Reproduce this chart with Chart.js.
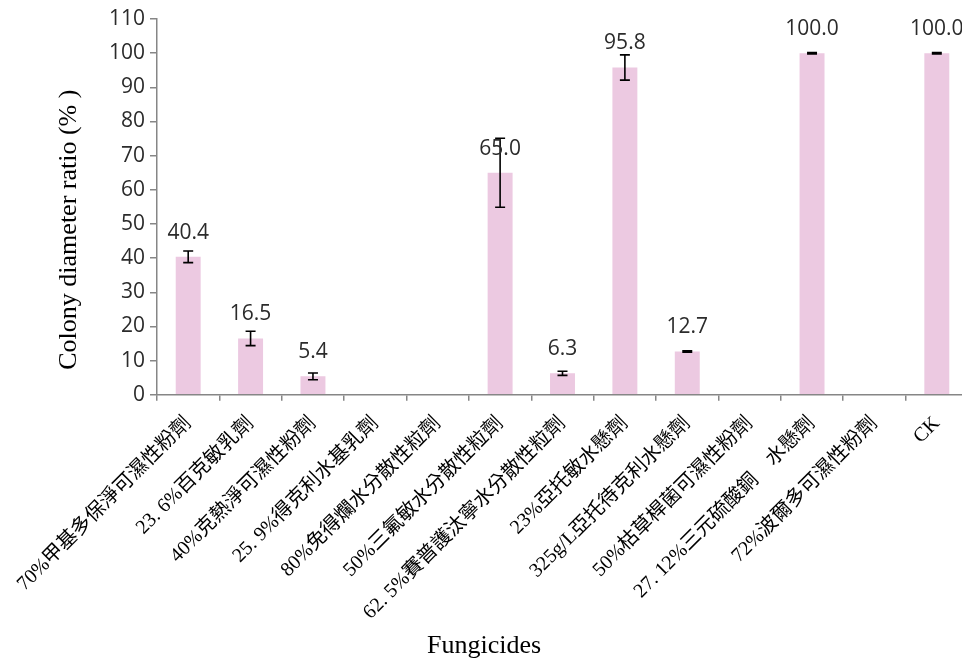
<!DOCTYPE html>
<html>
<head>
<meta charset="utf-8">
<script src="https://cdn.jsdelivr.net/npm/chart.js@4/dist/chart.umd.min.js"></script>
<style>
html,body{margin:0;padding:0;overflow:hidden;background:#fff;}
#wrap{width:968px;height:658px;}
</style>
</head>
<body>
<div id="wrap"><canvas id="c" width="968" height="658"></canvas></div>
<script>
const categories = [
  "70%甲基多保淨可濕性粉劑",
  "23. 6%百克敏乳劑",
  "40%克熱淨可濕性粉劑",
  "25. 9%得克利水基乳劑",
  "80%免得爛水分散性粒劑",
  "50%三氟敏水分散性粒劑",
  "62. 5%賽普護汰寧水分散性粒劑",
  "23%亞托敏水懸劑",
  "325g/L亞托待克利水懸劑",
  "50%枯草桿菌可濕性粉劑",
  "27. 12%三元硫酸銅　水懸劑",
  "72%波爾多可濕性粉劑",
  "CK"
];
const ratioValues = [40.4, 16.5, 5.4, null, null, 65.0, 6.3, 95.8, 12.7, null, 100.0, null, 100.0];
const ratioErrors = [1.7, 2.1, 1.0, null, null, 10.1, 0.6, 3.7, 0.2, null, 0.2, null, 0.2];
const yTicks = [0, 10, 20, 30, 40, 50, 60, 70, 80, 90, 100, 110];

const axisGrey = '#868686';
const tickFont = "'Open Sans', 'Liberation Sans', sans-serif";
const serifFont = "'Liberation Serif', 'Noto Sans CJK TC', serif";

const errorBarPlugin = {
  id: 'errorBars',
  afterDatasetsDraw(chart) {
    const ctx = chart.ctx;
    const meta = chart.getDatasetMeta(0);
    const y = chart.scales.y;
    ctx.save();
    ctx.strokeStyle = '#000';
    ctx.lineWidth = 1.6;
    meta.data.forEach((bar, i) => {
      const v = ratioValues[i], e = ratioErrors[i];
      if (v == null || e == null) return;
      const top = y.getPixelForValue(v + e);
      const bot = y.getPixelForValue(v - e);
      const x = bar.x, cap = 5;
      ctx.beginPath();
      ctx.moveTo(x, top); ctx.lineTo(x, bot);
      ctx.moveTo(x - cap, top); ctx.lineTo(x + cap, top);
      ctx.moveTo(x - cap, bot); ctx.lineTo(x + cap, bot);
      ctx.stroke();
    });
    ctx.restore();
  }
};

const valueLabelPlugin = {
  id: 'valueLabels',
  afterDatasetsDraw(chart) {
    const ctx = chart.ctx;
    const meta = chart.getDatasetMeta(0);
    ctx.save();
    ctx.font = "21px " + tickFont;
    ctx.fillStyle = '#2b2b2b';
    ctx.textAlign = 'center';
    ctx.textBaseline = 'middle';
    meta.data.forEach((bar, i) => {
      const v = ratioValues[i];
      if (v == null) return;
      ctx.fillText(v.toFixed(1), bar.x, bar.y - 24);
    });
    ctx.restore();
  }
};

new Chart(document.getElementById('c'), {
  type: 'bar',
  data: {
    labels: categories,
    datasets: [{
      data: ratioValues,
      backgroundColor: 'rgb(236,201,225)',
      borderWidth: 0,
      barPercentage: 0.8,
      categoryPercentage: 0.5
    }]
  },
  options: {
    responsive: false,
    animation: false,
    layout: { padding: { top: 19, left: 0, right: 0, bottom: 0 } },
    plugins: {
      legend: { display: false },
      tooltip: { enabled: false },
      title: {
        display: true,
        position: 'bottom',
        text: 'Fungicides',
        color: '#000',
        font: { family: serifFont, size: 26, weight: 'normal' },
        padding: { top: 0, bottom: -4 }
      }
    },
    scales: {
      x: {
        grid: { offset: true, drawOnChartArea: false, tickLength: 6, color: axisGrey, lineWidth: 1.5 },
        border: { color: axisGrey, width: 1.5 },
        ticks: {
          autoSkip: false, maxRotation: 45, minRotation: 45, padding: 11,
          color: '#000',
          font: { family: serifFont, size: 20 }
        },
        afterFit(scale) { scale.height = 236; }
      },
      y: {
        min: 0, max: 110,
        afterBuildTicks(scale) { scale.ticks = yTicks.map(v => ({ value: v })); },
        grid: { drawOnChartArea: false, tickLength: 7, color: axisGrey, lineWidth: 1.5 },
        border: { color: axisGrey, width: 1.5 },
        ticks: {
          padding: 5, color: '#2b2b2b',
          font: { family: tickFont, size: 21 }
        },
        title: {
          display: true,
          text: 'Colony diameter ratio (% )\u00a0\u00a0\u00a0\u00a0\u00a0\u00a0\u00a0',
          color: '#000',
          font: { family: serifFont, size: 26, weight: 'normal' },
          padding: { top: 54, bottom: 0 }
        },
        afterFit(scale) { scale.width = 157; }
      }
    }
  },
  plugins: [errorBarPlugin, valueLabelPlugin]
});
</script>
</body>
</html>
